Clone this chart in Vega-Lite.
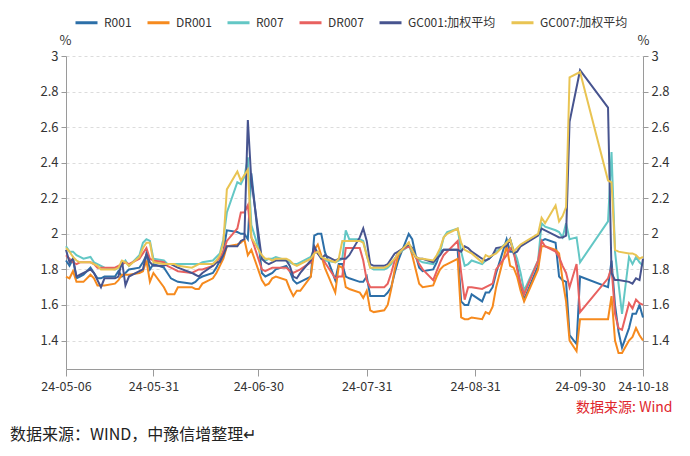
{
  "$schema": "https://vega.github.io/schema/vega-lite/v6.json",
  "autosize": "none",
  "width": 577,
  "height": 313,
  "padding": {"left": 66, "top": 56, "right": 47, "bottom": 87},
  "background": "white",
  "config": {
    "view": {"stroke": null},
    "font": "Noto Sans CJK SC",
    "axis": {"labelFont": "Noto Sans CJK SC", "labelColor": "#333", "domainColor": "#9a9a9a", "tickColor": "#9a9a9a", "labelFontSize": 13}
  },
  "title": {"text": "数据来源：WIND，中豫信增整理↵", "orient": "bottom", "anchor": "start", "frame": "group", "dx": -56, "offset": 13, "fontSize": 16, "fontWeight": "normal", "font": "Noto Sans CJK SC", "color": "#222"},
  "datasets": {
    "R001": [
      {"d":"2024-05-06","v":1.85},{"d":"2024-05-07","v":1.82},{"d":"2024-05-08","v":1.86},{"d":"2024-05-09","v":1.75},{"d":"2024-05-10","v":1.76},{"d":"2024-05-11","v":1.77},{"d":"2024-05-13","v":1.81},{"d":"2024-05-14","v":1.78},{"d":"2024-05-15","v":1.75},{"d":"2024-05-16","v":1.75},{"d":"2024-05-17","v":1.76},{"d":"2024-05-20","v":1.76},{"d":"2024-05-21","v":1.79},{"d":"2024-05-22","v":1.76},{"d":"2024-05-23","v":1.78},{"d":"2024-05-24","v":1.80},{"d":"2024-05-27","v":1.81},{"d":"2024-05-28","v":1.84},{"d":"2024-05-29","v":1.88},{"d":"2024-05-30","v":1.80},{"d":"2024-05-31","v":1.83},
      {"d":"2024-06-03","v":1.81},{"d":"2024-06-04","v":1.78},{"d":"2024-06-05","v":1.75},{"d":"2024-06-06","v":1.74},{"d":"2024-06-07","v":1.73},{"d":"2024-06-11","v":1.72},{"d":"2024-06-12","v":1.73},{"d":"2024-06-13","v":1.75},{"d":"2024-06-14","v":1.76},{"d":"2024-06-17","v":1.78},{"d":"2024-06-18","v":1.81},{"d":"2024-06-19","v":1.85},{"d":"2024-06-20","v":1.90},{"d":"2024-06-21","v":2.02},{"d":"2024-06-24","v":2.01},{"d":"2024-06-25","v":2.00},{"d":"2024-06-26","v":2.00},{"d":"2024-06-27","v":1.97},{"d":"2024-06-28","v":2.34},
      {"d":"2024-07-01","v":1.78},{"d":"2024-07-02","v":1.76},{"d":"2024-07-03","v":1.77},{"d":"2024-07-04","v":1.78},{"d":"2024-07-05","v":1.80},{"d":"2024-07-08","v":1.82},{"d":"2024-07-09","v":1.79},{"d":"2024-07-10","v":1.74},{"d":"2024-07-11","v":1.72},{"d":"2024-07-12","v":1.73},{"d":"2024-07-15","v":1.76},{"d":"2024-07-16","v":1.99},{"d":"2024-07-17","v":2.00},{"d":"2024-07-18","v":2.00},{"d":"2024-07-19","v":1.90},{"d":"2024-07-22","v":1.74},{"d":"2024-07-23","v":1.83},{"d":"2024-07-24","v":1.83},{"d":"2024-07-25","v":1.76},{"d":"2024-07-26","v":1.75},{"d":"2024-07-29","v":1.73},{"d":"2024-07-30","v":1.73},{"d":"2024-07-31","v":1.76},
      {"d":"2024-08-01","v":1.65},{"d":"2024-08-02","v":1.65},{"d":"2024-08-05","v":1.65},{"d":"2024-08-06","v":1.67},{"d":"2024-08-07","v":1.70},{"d":"2024-08-08","v":1.78},{"d":"2024-08-09","v":1.85},{"d":"2024-08-12","v":2.00},{"d":"2024-08-13","v":1.97},{"d":"2024-08-14","v":1.88},{"d":"2024-08-15","v":1.81},{"d":"2024-08-16","v":1.79},{"d":"2024-08-19","v":1.80},{"d":"2024-08-20","v":1.84},{"d":"2024-08-21","v":1.90},{"d":"2024-08-22","v":1.91},{"d":"2024-08-23","v":1.91},{"d":"2024-08-26","v":1.91},{"d":"2024-08-27","v":1.62},{"d":"2024-08-28","v":1.60},{"d":"2024-08-29","v":1.60},{"d":"2024-08-30","v":1.66},
      {"d":"2024-09-02","v":1.62},{"d":"2024-09-03","v":1.67},{"d":"2024-09-04","v":1.67},{"d":"2024-09-05","v":1.70},{"d":"2024-09-06","v":1.78},{"d":"2024-09-09","v":1.97},{"d":"2024-09-10","v":1.90},{"d":"2024-09-11","v":1.90},{"d":"2024-09-12","v":1.82},{"d":"2024-09-13","v":1.70},{"d":"2024-09-14","v":1.63},{"d":"2024-09-18","v":1.82},{"d":"2024-09-19","v":1.96},{"d":"2024-09-20","v":1.97},{"d":"2024-09-23","v":1.95},{"d":"2024-09-24","v":1.76},{"d":"2024-09-25","v":1.74},{"d":"2024-09-26","v":1.73},{"d":"2024-09-27","v":1.43},{"d":"2024-09-29","v":1.38},{"d":"2024-09-30","v":1.76},
      {"d":"2024-10-08","v":1.70},{"d":"2024-10-09","v":1.85},{"d":"2024-10-10","v":1.60},{"d":"2024-10-11","v":1.45},{"d":"2024-10-12","v":1.36},{"d":"2024-10-14","v":1.47},{"d":"2024-10-15","v":1.55},{"d":"2024-10-16","v":1.55},{"d":"2024-10-17","v":1.60},{"d":"2024-10-18","v":1.53}
    ],
    "DR001": [
      {"d":"2024-05-06","v":1.76},{"d":"2024-05-07","v":1.75},{"d":"2024-05-08","v":1.79},{"d":"2024-05-09","v":1.73},{"d":"2024-05-10","v":1.73},{"d":"2024-05-11","v":1.73},{"d":"2024-05-13","v":1.77},{"d":"2024-05-14","v":1.75},{"d":"2024-05-15","v":1.71},{"d":"2024-05-16","v":1.71},{"d":"2024-05-17","v":1.71},{"d":"2024-05-20","v":1.72},{"d":"2024-05-21","v":1.74},{"d":"2024-05-22","v":1.77},{"d":"2024-05-23","v":1.77},{"d":"2024-05-24","v":1.77},{"d":"2024-05-27","v":1.78},{"d":"2024-05-28","v":1.79},{"d":"2024-05-29","v":1.85},{"d":"2024-05-30","v":1.73},{"d":"2024-05-31","v":1.78},
      {"d":"2024-06-03","v":1.70},{"d":"2024-06-04","v":1.66},{"d":"2024-06-05","v":1.66},{"d":"2024-06-06","v":1.66},{"d":"2024-06-07","v":1.70},{"d":"2024-06-11","v":1.70},{"d":"2024-06-12","v":1.69},{"d":"2024-06-13","v":1.69},{"d":"2024-06-14","v":1.72},{"d":"2024-06-17","v":1.75},{"d":"2024-06-18","v":1.78},{"d":"2024-06-19","v":1.82},{"d":"2024-06-20","v":1.86},{"d":"2024-06-21","v":1.93},{"d":"2024-06-24","v":1.94},{"d":"2024-06-25","v":1.95},{"d":"2024-06-26","v":1.97},{"d":"2024-06-27","v":1.88},{"d":"2024-06-28","v":1.91},
      {"d":"2024-07-01","v":1.74},{"d":"2024-07-02","v":1.71},{"d":"2024-07-03","v":1.72},{"d":"2024-07-04","v":1.75},{"d":"2024-07-05","v":1.76},{"d":"2024-07-08","v":1.74},{"d":"2024-07-09","v":1.69},{"d":"2024-07-10","v":1.65},{"d":"2024-07-11","v":1.68},{"d":"2024-07-12","v":1.68},{"d":"2024-07-15","v":1.76},{"d":"2024-07-16","v":1.91},{"d":"2024-07-17","v":1.94},{"d":"2024-07-18","v":1.88},{"d":"2024-07-19","v":1.81},{"d":"2024-07-22","v":1.67},{"d":"2024-07-23","v":1.82},{"d":"2024-07-24","v":1.81},{"d":"2024-07-25","v":1.70},{"d":"2024-07-26","v":1.69},{"d":"2024-07-29","v":1.67},{"d":"2024-07-30","v":1.64},{"d":"2024-07-31","v":1.68},
      {"d":"2024-08-01","v":1.57},{"d":"2024-08-02","v":1.56},{"d":"2024-08-05","v":1.57},{"d":"2024-08-06","v":1.60},{"d":"2024-08-07","v":1.69},{"d":"2024-08-08","v":1.80},{"d":"2024-08-09","v":1.88},{"d":"2024-08-12","v":1.95},{"d":"2024-08-13","v":1.88},{"d":"2024-08-14","v":1.80},{"d":"2024-08-15","v":1.72},{"d":"2024-08-16","v":1.70},{"d":"2024-08-19","v":1.71},{"d":"2024-08-20","v":1.76},{"d":"2024-08-21","v":1.80},{"d":"2024-08-22","v":1.82},{"d":"2024-08-23","v":1.83},{"d":"2024-08-26","v":1.86},{"d":"2024-08-27","v":1.53},{"d":"2024-08-28","v":1.52},{"d":"2024-08-29","v":1.52},{"d":"2024-08-30","v":1.53},
      {"d":"2024-09-02","v":1.52},{"d":"2024-09-03","v":1.56},{"d":"2024-09-04","v":1.55},{"d":"2024-09-05","v":1.59},{"d":"2024-09-06","v":1.70},{"d":"2024-09-09","v":1.93},{"d":"2024-09-10","v":1.82},{"d":"2024-09-11","v":1.81},{"d":"2024-09-12","v":1.76},{"d":"2024-09-13","v":1.68},{"d":"2024-09-14","v":1.62},{"d":"2024-09-18","v":1.80},{"d":"2024-09-19","v":1.93},{"d":"2024-09-20","v":1.93},{"d":"2024-09-23","v":1.91},{"d":"2024-09-24","v":1.89},{"d":"2024-09-25","v":1.74},{"d":"2024-09-26","v":1.62},{"d":"2024-09-27","v":1.40},{"d":"2024-09-29","v":1.34},{"d":"2024-09-30","v":1.52},
      {"d":"2024-10-08","v":1.52},{"d":"2024-10-09","v":1.65},{"d":"2024-10-10","v":1.40},{"d":"2024-10-11","v":1.33},{"d":"2024-10-12","v":1.33},{"d":"2024-10-14","v":1.40},{"d":"2024-10-15","v":1.42},{"d":"2024-10-16","v":1.47},{"d":"2024-10-17","v":1.43},{"d":"2024-10-18","v":1.40}
    ],
    "R007": [
      {"d":"2024-05-06","v":1.93},{"d":"2024-05-07","v":1.90},{"d":"2024-05-08","v":1.90},{"d":"2024-05-09","v":1.88},{"d":"2024-05-10","v":1.87},{"d":"2024-05-11","v":1.86},{"d":"2024-05-13","v":1.87},{"d":"2024-05-14","v":1.84},{"d":"2024-05-15","v":1.83},{"d":"2024-05-16","v":1.82},{"d":"2024-05-17","v":1.81},{"d":"2024-05-20","v":1.80},{"d":"2024-05-21","v":1.81},{"d":"2024-05-22","v":1.82},{"d":"2024-05-23","v":1.85},{"d":"2024-05-24","v":1.82},{"d":"2024-05-27","v":1.88},{"d":"2024-05-28","v":1.95},{"d":"2024-05-29","v":1.97},{"d":"2024-05-30","v":1.96},{"d":"2024-05-31","v":1.86},
      {"d":"2024-06-03","v":1.85},{"d":"2024-06-04","v":1.83},{"d":"2024-06-05","v":1.83},{"d":"2024-06-06","v":1.83},{"d":"2024-06-07","v":1.83},{"d":"2024-06-11","v":1.83},{"d":"2024-06-12","v":1.83},{"d":"2024-06-13","v":1.83},{"d":"2024-06-14","v":1.84},{"d":"2024-06-17","v":1.85},{"d":"2024-06-18","v":1.87},{"d":"2024-06-19","v":1.89},{"d":"2024-06-20","v":1.97},{"d":"2024-06-21","v":2.12},{"d":"2024-06-24","v":2.29},{"d":"2024-06-25","v":2.28},{"d":"2024-06-26","v":2.32},{"d":"2024-06-27","v":2.43},{"d":"2024-06-28","v":2.05},
      {"d":"2024-07-01","v":1.86},{"d":"2024-07-02","v":1.85},{"d":"2024-07-03","v":1.86},{"d":"2024-07-04","v":1.86},{"d":"2024-07-05","v":1.87},{"d":"2024-07-08","v":1.85},{"d":"2024-07-09","v":1.84},{"d":"2024-07-10","v":1.83},{"d":"2024-07-11","v":1.83},{"d":"2024-07-12","v":1.84},{"d":"2024-07-15","v":1.87},{"d":"2024-07-16","v":1.91},{"d":"2024-07-17","v":1.89},{"d":"2024-07-18","v":1.87},{"d":"2024-07-19","v":1.85},{"d":"2024-07-22","v":1.84},{"d":"2024-07-23","v":1.85},{"d":"2024-07-24","v":1.86},{"d":"2024-07-25","v":2.02},{"d":"2024-07-26","v":1.97},{"d":"2024-07-29","v":1.97},{"d":"2024-07-30","v":1.96},{"d":"2024-07-31","v":1.88},
      {"d":"2024-08-01","v":1.81},{"d":"2024-08-02","v":1.80},{"d":"2024-08-05","v":1.80},{"d":"2024-08-06","v":1.81},{"d":"2024-08-07","v":1.83},{"d":"2024-08-08","v":1.86},{"d":"2024-08-09","v":1.89},{"d":"2024-08-12","v":1.93},{"d":"2024-08-13","v":1.90},{"d":"2024-08-14","v":1.87},{"d":"2024-08-15","v":1.85},{"d":"2024-08-16","v":1.84},{"d":"2024-08-19","v":1.83},{"d":"2024-08-20","v":1.86},{"d":"2024-08-21","v":1.90},{"d":"2024-08-22","v":1.98},{"d":"2024-08-23","v":2.01},{"d":"2024-08-26","v":2.03},{"d":"2024-08-27","v":1.90},{"d":"2024-08-28","v":1.82},{"d":"2024-08-29","v":1.83},{"d":"2024-08-30","v":1.85},
      {"d":"2024-09-02","v":1.83},{"d":"2024-09-03","v":1.85},{"d":"2024-09-04","v":1.86},{"d":"2024-09-05","v":1.88},{"d":"2024-09-06","v":1.90},{"d":"2024-09-09","v":1.95},{"d":"2024-09-10","v":1.97},{"d":"2024-09-11","v":1.91},{"d":"2024-09-12","v":1.86},{"d":"2024-09-13","v":1.78},{"d":"2024-09-14","v":1.68},{"d":"2024-09-18","v":1.85},{"d":"2024-09-19","v":2.06},{"d":"2024-09-20","v":2.04},{"d":"2024-09-23","v":2.02},{"d":"2024-09-24","v":2.01},{"d":"2024-09-25","v":1.98},{"d":"2024-09-26","v":2.06},{"d":"2024-09-27","v":1.97},{"d":"2024-09-29","v":1.98},{"d":"2024-09-30","v":1.84},
      {"d":"2024-10-08","v":2.07},{"d":"2024-10-09","v":2.46},{"d":"2024-10-10","v":1.90},{"d":"2024-10-11","v":1.72},{"d":"2024-10-12","v":1.55},{"d":"2024-10-14","v":1.87},{"d":"2024-10-15","v":1.83},{"d":"2024-10-16","v":1.87},{"d":"2024-10-17","v":1.84},{"d":"2024-10-18","v":1.82}
    ],
    "DR007": [
      {"d":"2024-05-06","v":1.88},{"d":"2024-05-07","v":1.86},{"d":"2024-05-08","v":1.84},{"d":"2024-05-09","v":1.83},{"d":"2024-05-10","v":1.84},{"d":"2024-05-11","v":1.84},{"d":"2024-05-13","v":1.84},{"d":"2024-05-14","v":1.83},{"d":"2024-05-15","v":1.81},{"d":"2024-05-16","v":1.81},{"d":"2024-05-17","v":1.81},{"d":"2024-05-20","v":1.81},{"d":"2024-05-21","v":1.82},{"d":"2024-05-22","v":1.83},{"d":"2024-05-23","v":1.84},{"d":"2024-05-24","v":1.83},{"d":"2024-05-27","v":1.86},{"d":"2024-05-28","v":1.89},{"d":"2024-05-29","v":1.92},{"d":"2024-05-30","v":1.86},{"d":"2024-05-31","v":1.85},
      {"d":"2024-06-03","v":1.84},{"d":"2024-06-04","v":1.82},{"d":"2024-06-05","v":1.81},{"d":"2024-06-06","v":1.80},{"d":"2024-06-07","v":1.79},{"d":"2024-06-11","v":1.78},{"d":"2024-06-12","v":1.79},{"d":"2024-06-13","v":1.80},{"d":"2024-06-14","v":1.80},{"d":"2024-06-17","v":1.82},{"d":"2024-06-18","v":1.84},{"d":"2024-06-19","v":1.87},{"d":"2024-06-20","v":1.90},{"d":"2024-06-21","v":1.96},{"d":"2024-06-24","v":2.03},{"d":"2024-06-25","v":2.12},{"d":"2024-06-26","v":2.12},{"d":"2024-06-27","v":2.16},{"d":"2024-06-28","v":1.98},
      {"d":"2024-07-01","v":1.80},{"d":"2024-07-02","v":1.79},{"d":"2024-07-03","v":1.80},{"d":"2024-07-04","v":1.81},{"d":"2024-07-05","v":1.81},{"d":"2024-07-08","v":1.81},{"d":"2024-07-09","v":1.79},{"d":"2024-07-10","v":1.78},{"d":"2024-07-11","v":1.79},{"d":"2024-07-12","v":1.80},{"d":"2024-07-15","v":1.84},{"d":"2024-07-16","v":1.91},{"d":"2024-07-17","v":1.89},{"d":"2024-07-18","v":1.87},{"d":"2024-07-19","v":1.84},{"d":"2024-07-22","v":1.75},{"d":"2024-07-23","v":1.76},{"d":"2024-07-24","v":1.76},{"d":"2024-07-25","v":1.92},{"d":"2024-07-26","v":1.92},{"d":"2024-07-29","v":1.92},{"d":"2024-07-30","v":1.85},{"d":"2024-07-31","v":1.74},
      {"d":"2024-08-01","v":1.70},{"d":"2024-08-02","v":1.70},{"d":"2024-08-05","v":1.70},{"d":"2024-08-06","v":1.72},{"d":"2024-08-07","v":1.78},{"d":"2024-08-08","v":1.85},{"d":"2024-08-09","v":1.90},{"d":"2024-08-12","v":1.93},{"d":"2024-08-13","v":1.91},{"d":"2024-08-14","v":1.87},{"d":"2024-08-15","v":1.83},{"d":"2024-08-16","v":1.80},{"d":"2024-08-19","v":1.74},{"d":"2024-08-20","v":1.79},{"d":"2024-08-21","v":1.84},{"d":"2024-08-22","v":1.88},{"d":"2024-08-23","v":1.90},{"d":"2024-08-26","v":1.96},{"d":"2024-08-27","v":1.78},{"d":"2024-08-28","v":1.63},{"d":"2024-08-29","v":1.70},{"d":"2024-08-30","v":1.70},
      {"d":"2024-09-02","v":1.69},{"d":"2024-09-03","v":1.70},{"d":"2024-09-04","v":1.71},{"d":"2024-09-05","v":1.72},{"d":"2024-09-06","v":1.80},{"d":"2024-09-09","v":1.88},{"d":"2024-09-10","v":1.92},{"d":"2024-09-11","v":1.90},{"d":"2024-09-12","v":1.80},{"d":"2024-09-13","v":1.72},{"d":"2024-09-14","v":1.66},{"d":"2024-09-18","v":1.85},{"d":"2024-09-19","v":1.96},{"d":"2024-09-20","v":1.93},{"d":"2024-09-23","v":1.90},{"d":"2024-09-24","v":1.87},{"d":"2024-09-25","v":1.82},{"d":"2024-09-26","v":1.78},{"d":"2024-09-27","v":1.70},{"d":"2024-09-29","v":1.83},{"d":"2024-09-30","v":1.56},
      {"d":"2024-10-08","v":1.75},{"d":"2024-10-09","v":1.81},{"d":"2024-10-10","v":1.55},{"d":"2024-10-11","v":1.47},{"d":"2024-10-12","v":1.46},{"d":"2024-10-14","v":1.61},{"d":"2024-10-15","v":1.58},{"d":"2024-10-16","v":1.63},{"d":"2024-10-17","v":1.61},{"d":"2024-10-18","v":1.60}
    ],
    "GC001": [
      {"d":"2024-05-06","v":1.91},{"d":"2024-05-07","v":1.84},{"d":"2024-05-08","v":1.86},{"d":"2024-05-09","v":1.76},{"d":"2024-05-10","v":1.77},{"d":"2024-05-13","v":1.80},{"d":"2024-05-14","v":1.78},{"d":"2024-05-15","v":1.74},{"d":"2024-05-16","v":1.70},{"d":"2024-05-17","v":1.75},{"d":"2024-05-20","v":1.75},{"d":"2024-05-21","v":1.76},{"d":"2024-05-22","v":1.85},{"d":"2024-05-23","v":1.71},{"d":"2024-05-24","v":1.76},{"d":"2024-05-27","v":1.79},{"d":"2024-05-28","v":1.80},{"d":"2024-05-29","v":1.89},{"d":"2024-05-30","v":1.84},{"d":"2024-05-31","v":1.82},
      {"d":"2024-06-03","v":1.82},{"d":"2024-06-04","v":1.83},{"d":"2024-06-05","v":1.83},{"d":"2024-06-06","v":1.82},{"d":"2024-06-07","v":1.81},{"d":"2024-06-11","v":1.78},{"d":"2024-06-12","v":1.77},{"d":"2024-06-13","v":1.76},{"d":"2024-06-14","v":1.78},{"d":"2024-06-17","v":1.82},{"d":"2024-06-18","v":1.84},{"d":"2024-06-19","v":1.84},{"d":"2024-06-20","v":1.88},{"d":"2024-06-21","v":1.93},{"d":"2024-06-24","v":1.93},{"d":"2024-06-25","v":1.96},{"d":"2024-06-26","v":1.97},{"d":"2024-06-27","v":2.64},{"d":"2024-06-28","v":2.30},
      {"d":"2024-07-01","v":1.86},{"d":"2024-07-02","v":1.84},{"d":"2024-07-03","v":1.83},{"d":"2024-07-04","v":1.84},{"d":"2024-07-05","v":1.85},{"d":"2024-07-08","v":1.85},{"d":"2024-07-09","v":1.82},{"d":"2024-07-10","v":1.76},{"d":"2024-07-11","v":1.75},{"d":"2024-07-12","v":1.78},{"d":"2024-07-15","v":1.85},{"d":"2024-07-16","v":1.93},{"d":"2024-07-17","v":1.89},{"d":"2024-07-18","v":1.86},{"d":"2024-07-19","v":1.88},{"d":"2024-07-22","v":1.85},{"d":"2024-07-23","v":1.86},{"d":"2024-07-24","v":1.86},{"d":"2024-07-25","v":1.86},{"d":"2024-07-26","v":1.88},{"d":"2024-07-29","v":1.98},{"d":"2024-07-30","v":2.03},{"d":"2024-07-31","v":1.96},
      {"d":"2024-08-01","v":1.83},{"d":"2024-08-02","v":1.82},{"d":"2024-08-05","v":1.82},{"d":"2024-08-06","v":1.83},{"d":"2024-08-07","v":1.86},{"d":"2024-08-08","v":1.89},{"d":"2024-08-09","v":1.90},{"d":"2024-08-12","v":1.94},{"d":"2024-08-13","v":1.92},{"d":"2024-08-14","v":1.87},{"d":"2024-08-15","v":1.86},{"d":"2024-08-16","v":1.86},{"d":"2024-08-19","v":1.84},{"d":"2024-08-20","v":1.86},{"d":"2024-08-21","v":1.88},{"d":"2024-08-22","v":1.91},{"d":"2024-08-23","v":1.91},{"d":"2024-08-26","v":1.91},{"d":"2024-08-27","v":1.90},{"d":"2024-08-28","v":1.93},{"d":"2024-08-29","v":1.92},{"d":"2024-08-30","v":1.90},
      {"d":"2024-09-02","v":1.86},{"d":"2024-09-03","v":1.85},{"d":"2024-09-04","v":1.86},{"d":"2024-09-05","v":1.88},{"d":"2024-09-06","v":1.92},{"d":"2024-09-09","v":1.93},{"d":"2024-09-10","v":1.97},{"d":"2024-09-11","v":1.89},{"d":"2024-09-12","v":1.90},{"d":"2024-09-13","v":1.93},{"d":"2024-09-18","v":1.99},{"d":"2024-09-19","v":2.03},{"d":"2024-09-20","v":2.02},{"d":"2024-09-23","v":1.99},{"d":"2024-09-24","v":1.98},{"d":"2024-09-25","v":1.98},{"d":"2024-09-26","v":1.99},{"d":"2024-09-27","v":2.63},{"d":"2024-09-30","v":2.92},
      {"d":"2024-10-08","v":2.71},{"d":"2024-10-09","v":1.78},{"d":"2024-10-10","v":1.74},{"d":"2024-10-11","v":1.74},{"d":"2024-10-14","v":1.73},{"d":"2024-10-15","v":1.72},{"d":"2024-10-16","v":1.75},{"d":"2024-10-17","v":1.74},{"d":"2024-10-18","v":1.86}
    ],
    "GC007": [
      {"d":"2024-05-06","v":1.92},{"d":"2024-05-07","v":1.90},{"d":"2024-05-08","v":1.87},{"d":"2024-05-09","v":1.85},{"d":"2024-05-10","v":1.84},{"d":"2024-05-13","v":1.84},{"d":"2024-05-14","v":1.83},{"d":"2024-05-15","v":1.82},{"d":"2024-05-16","v":1.80},{"d":"2024-05-17","v":1.80},{"d":"2024-05-20","v":1.80},{"d":"2024-05-21","v":1.81},{"d":"2024-05-22","v":1.85},{"d":"2024-05-23","v":1.84},{"d":"2024-05-24","v":1.82},{"d":"2024-05-27","v":1.87},{"d":"2024-05-28","v":1.92},{"d":"2024-05-29","v":1.95},{"d":"2024-05-30","v":1.95},{"d":"2024-05-31","v":1.84},
      {"d":"2024-06-03","v":1.83},{"d":"2024-06-04","v":1.83},{"d":"2024-06-05","v":1.83},{"d":"2024-06-06","v":1.83},{"d":"2024-06-07","v":1.82},{"d":"2024-06-11","v":1.81},{"d":"2024-06-12","v":1.82},{"d":"2024-06-13","v":1.83},{"d":"2024-06-14","v":1.83},{"d":"2024-06-17","v":1.83},{"d":"2024-06-18","v":1.85},{"d":"2024-06-19","v":1.88},{"d":"2024-06-20","v":1.95},{"d":"2024-06-21","v":2.25},{"d":"2024-06-24","v":2.35},{"d":"2024-06-25","v":2.30},{"d":"2024-06-26","v":2.33},{"d":"2024-06-27","v":2.36},{"d":"2024-06-28","v":1.98},
      {"d":"2024-07-01","v":1.88},{"d":"2024-07-02","v":1.86},{"d":"2024-07-03","v":1.86},{"d":"2024-07-04","v":1.85},{"d":"2024-07-05","v":1.86},{"d":"2024-07-08","v":1.86},{"d":"2024-07-09","v":1.85},{"d":"2024-07-10","v":1.83},{"d":"2024-07-11","v":1.82},{"d":"2024-07-12","v":1.83},{"d":"2024-07-15","v":1.86},{"d":"2024-07-16","v":1.89},{"d":"2024-07-17","v":1.90},{"d":"2024-07-18","v":1.87},{"d":"2024-07-19","v":1.86},{"d":"2024-07-22","v":1.84},{"d":"2024-07-23","v":1.86},{"d":"2024-07-24","v":1.96},{"d":"2024-07-25","v":1.96},{"d":"2024-07-26","v":1.96},{"d":"2024-07-29","v":1.96},{"d":"2024-07-30","v":1.95},{"d":"2024-07-31","v":1.88},
      {"d":"2024-08-01","v":1.81},{"d":"2024-08-02","v":1.81},{"d":"2024-08-05","v":1.81},{"d":"2024-08-06","v":1.82},{"d":"2024-08-07","v":1.84},{"d":"2024-08-08","v":1.86},{"d":"2024-08-09","v":1.89},{"d":"2024-08-12","v":1.95},{"d":"2024-08-13","v":1.91},{"d":"2024-08-14","v":1.87},{"d":"2024-08-15","v":1.86},{"d":"2024-08-16","v":1.86},{"d":"2024-08-19","v":1.85},{"d":"2024-08-20","v":1.88},{"d":"2024-08-21","v":1.92},{"d":"2024-08-22","v":1.98},{"d":"2024-08-23","v":2.00},{"d":"2024-08-26","v":2.03},{"d":"2024-08-27","v":1.95},{"d":"2024-08-28","v":1.91},{"d":"2024-08-29","v":1.90},{"d":"2024-08-30","v":1.89},
      {"d":"2024-09-02","v":1.84},{"d":"2024-09-03","v":1.88},{"d":"2024-09-04","v":1.87},{"d":"2024-09-05","v":1.88},{"d":"2024-09-06","v":1.89},{"d":"2024-09-09","v":1.95},{"d":"2024-09-10","v":1.97},{"d":"2024-09-11","v":1.90},{"d":"2024-09-12","v":1.92},{"d":"2024-09-13","v":1.94},{"d":"2024-09-18","v":2.00},{"d":"2024-09-19","v":2.09},{"d":"2024-09-20","v":2.06},{"d":"2024-09-23","v":2.16},{"d":"2024-09-24","v":2.07},{"d":"2024-09-25","v":2.10},{"d":"2024-09-26","v":2.15},{"d":"2024-09-27","v":2.88},{"d":"2024-09-30","v":2.91},
      {"d":"2024-10-08","v":2.30},{"d":"2024-10-09","v":2.29},{"d":"2024-10-10","v":1.91},{"d":"2024-10-11","v":1.90},{"d":"2024-10-14","v":1.89},{"d":"2024-10-15","v":1.89},{"d":"2024-10-16","v":1.88},{"d":"2024-10-17","v":1.86},{"d":"2024-10-18","v":1.87}
    ]
  },
  "encoding": {
    "x": {
      "field": "d", "type": "temporal",
      "scale": {"type": "utc", "domain": [{"year": 2024, "month": 5, "date": 6, "utc": true}, {"year": 2024, "month": 10, "date": 18, "utc": true}]},
      "axis": {
        "values": [
          {"year": 2024, "month": 5, "date": 6, "utc": true},
          {"year": 2024, "month": 5, "date": 31, "utc": true},
          {"year": 2024, "month": 6, "date": 30, "utc": true},
          {"year": 2024, "month": 7, "date": 31, "utc": true},
          {"year": 2024, "month": 8, "date": 31, "utc": true},
          {"year": 2024, "month": 9, "date": 30, "utc": true},
          {"year": 2024, "month": 10, "date": 18, "utc": true}
        ],
        "format": "%y-%m-%d", "labelFontSize": 12.5, "labelPadding": 4, "tickSize": 7, "grid": false, "labelOverlap": false, "labelFlush": false,
        "title": "数据来源: Wind", "titleColor": "#e0262c", "titleFontSize": 14, "titleFontWeight": "normal", "titleFont": "Noto Sans CJK SC",
        "titleX": 606, "titleY": 38, "titleAlign": "right", "titleBaseline": "middle", "titleAnchor": null
      }
    }
  },
  "layer": [
    {
      "data": {"name": "R001"},
      "mark": {"type": "line", "strokeWidth": 2},
      "encoding": {
        "y": {"field": "v", "type": "quantitative", "scale": {"domain": [1.24, 3], "nice": false, "zero": false},
          "axis": {"orient": "left", "values": [1.4, 1.6, 1.8, 2, 2.2, 2.4, 2.6, 2.8, 3], "format": "~g", "tickSize": 5, "labelPadding": 3,
            "grid": true, "gridDash": [3, 3], "gridColor": "#dcdcdc", "gridWidth": 1,
            "title": "%", "titleAngle": 0, "titleX": -1, "titleY": -16, "titleAlign": "center", "titleBaseline": "middle", "titleFontSize": 13, "titleFontWeight": "normal", "titleColor": "#333"}},
        "color": {"datum": "R001", "type": "nominal",
          "scale": {"domain": ["R001", "DR001", "R007", "DR007", "GC001:加权平均", "GC007:加权平均"], "range": ["#2c6fa8", "#f68a1e", "#63c7c5", "#e8615f", "#47548f", "#e9c453"]},
          "legend": {"orient": "none", "legendX": 8, "legendY": -46, "direction": "horizontal", "title": null, "symbolType": "stroke", "symbolStrokeWidth": 3, "symbolSize": 484, "labelFontSize": 12, "labelFont": "Noto Sans CJK SC", "labelColor": "#333", "columnPadding": 9, "labelOffset": 5, "padding": 0}}
      }
    },
    {
      "data": {"name": "DR001"},
      "mark": {"type": "line", "strokeWidth": 2},
      "encoding": {"y": {"field": "v", "type": "quantitative", "axis": null}, "color": {"datum": "DR001"}}
    },
    {
      "data": {"name": "R007"},
      "mark": {"type": "line", "strokeWidth": 2},
      "encoding": {"y": {"field": "v", "type": "quantitative", "axis": null}, "color": {"datum": "R007"}}
    },
    {
      "data": {"name": "DR007"},
      "mark": {"type": "line", "strokeWidth": 2},
      "encoding": {"y": {"field": "v", "type": "quantitative", "axis": null}, "color": {"datum": "DR007"}}
    },
    {
      "data": {"name": "GC001"},
      "mark": {"type": "line", "strokeWidth": 2},
      "encoding": {"y": {"field": "v", "type": "quantitative", "axis": null}, "color": {"datum": "GC001:加权平均"}}
    },
    {
      "data": {"name": "GC007"},
      "mark": {"type": "line", "strokeWidth": 2},
      "encoding": {
        "y": {"field": "v", "type": "quantitative",
          "axis": {"orient": "right", "values": [1.4, 1.6, 1.8, 2, 2.2, 2.4, 2.6, 2.8, 3], "format": "~g", "tickSize": 5, "labelPadding": 3, "grid": false,
            "title": "%", "titleAngle": 0, "titleX": 0, "titleY": -16, "titleAlign": "center", "titleBaseline": "middle", "titleFontSize": 13, "titleFontWeight": "normal", "titleColor": "#333"}},
        "color": {"datum": "GC007:加权平均"}
      }
    }
  ],
  "resolve": {"axis": {"y": "independent"}}
}
